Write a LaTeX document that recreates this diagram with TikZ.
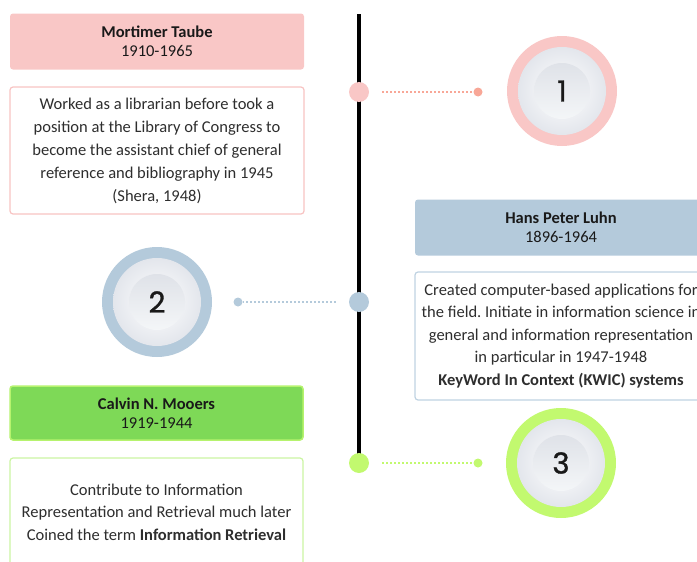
\documentclass[tikz,border=0pt]{standalone}
\usepackage{fontspec}
\setmainfont{Carlito}
\newfontfamily\numfont[FakeBold=1.2]{Poppins}
\usetikzlibrary{positioning}
\frenchspacing
\definecolor{rosefill}{HTML}{F9C7C6}
\definecolor{roseline}{HTML}{F8C4C3}
\definecolor{rosedot}{HTML}{F8A797}
\definecolor{bluefill}{HTML}{B4CADB}
\definecolor{blueline}{HTML}{C0D3E2}
\definecolor{greenfill}{HTML}{7ED957}
\definecolor{greenedge}{HTML}{B6F36E}
\definecolor{greenring}{HTML}{C2F96F}
\definecolor{greenline}{HTML}{CBF5A3}
\definecolor{bodytext}{HTML}{2E2E2E}
\definecolor{discedge}{HTML}{E3E6EC}
\definecolor{hubtop}{HTML}{DFE2E8}
\definecolor{hubfoot}{HTML}{F4F6F8}
\newcommand{\medal}[4]{% name, centre, ring colour, number
  \node[ring, fill=#3] (#1) at (#2) {};
  \node[disc] (#1-disc) at (#1) {};
  \node[hub] (#1-hub) at (#1) {\numfont #4};
}

\begin{document}
\begin{tikzpicture}[x=1pt,y=-1pt,
    head/.style={rounded corners=3pt, align=center, inner sep=0pt, minimum width=294pt, minimum height=56pt, font=\fontsize{16.5}{19}\selectfont, text=black!90},
    info/.style={rounded corners=3pt, align=center, inner sep=0pt, line width=1.2pt, fill=white, minimum width=294pt, font=\fontsize{16.5}{23}\selectfont, text=bodytext},
    dot/.style={circle, inner sep=0pt, minimum size=20pt},
    pip/.style={circle, inner sep=0pt, minimum size=9pt},
    link/.style={line width=2pt, dash pattern=on 2pt off 2pt, shorten <=13pt},
    ring/.style={circle, inner sep=0pt, minimum size=110pt},
    disc/.style={circle, inner sep=0pt, minimum size=88pt, inner color=white, outer color=discedge},
    hub/.style={circle, inner sep=0pt, minimum size=56pt, top color=hubtop, bottom color=hubfoot, font=\fontsize{29}{29}\selectfont, text=black!90}]
  \useasboundingbox (0,0) rectangle (697,562);

  % timeline
  \coordinate (top) at (359,14);
  \coordinate (bottom) at (359,458);
  \draw[line width=4pt] (top) -- (bottom);

  % Mortimer Taube
  \node[head, fill=rosefill] (taube) at (157,41.5) {\textbf{Mortimer Taube}\\1910-1965};
  \node[info, draw=roseline, minimum height=127pt] (taubeinfo) at (157,150.5)
    {Worked as a librarian before took a\\position at the Library of Congress to\\become the assistant chief of general\\reference and bibliography in 1945\\(Shera, 1948)};
  \node[dot, fill=rosefill] (taubedot) at (359,92) {};
  \node[pip, fill=rosedot] (taubepip) at (478,92) {};
  \draw[link, rosedot] (taubedot) -- (taubepip);
  \medal{one}{562,91}{rosefill}{1}

  % Hans Peter Luhn
  \node[head, fill=bluefill, minimum width=292pt] (luhn) at (561,227.5) {\textbf{Hans Peter Luhn}\\1896-1964};
  \node[info, draw=blueline, minimum width=292pt, minimum height=128pt, font=\fontsize{16.5}{22.5}\selectfont] (luhninfo) at (561,336)
    {Created computer-based applications for\\the field. Initiate in information science in\\general and information representation\\in particular in 1947-1948\\\textbf{KeyWord In Context (KWIC) systems}};
  \node[dot, fill=bluefill] (luhndot) at (359,302) {};
  \node[pip, fill=bluefill] (luhnpip) at (238,302) {};
  \draw[link, bluefill] (luhndot) -- (luhnpip);
  \medal{two}{157,302}{bluefill}{2}

  % Calvin N. Mooers
  \node[head, fill=greenfill, draw=greenedge, line width=1.5pt, minimum width=293pt, minimum height=54pt] (mooers) at (156.5,413) {\textbf{Calvin N. Mooers}\\1919-1944};
  \node[info, draw=greenline, minimum width=293pt, minimum height=108pt, font=\fontsize{16.5}{22.5}\selectfont] (mooersinfo) at (156.5,512)
    {Contribute to Information\\Representation and Retrieval much later\\Coined the term \textbf{Information Retrieval}};
  \node[dot, fill=greenring] (mooersdot) at (359,463) {};
  \node[pip, fill=greenring] (mooerspip) at (478,463) {};
  \draw[link, greenring] (mooersdot) -- (mooerspip);
  \medal{three}{561,463}{greenring}{3}
\end{tikzpicture}
\end{document}
